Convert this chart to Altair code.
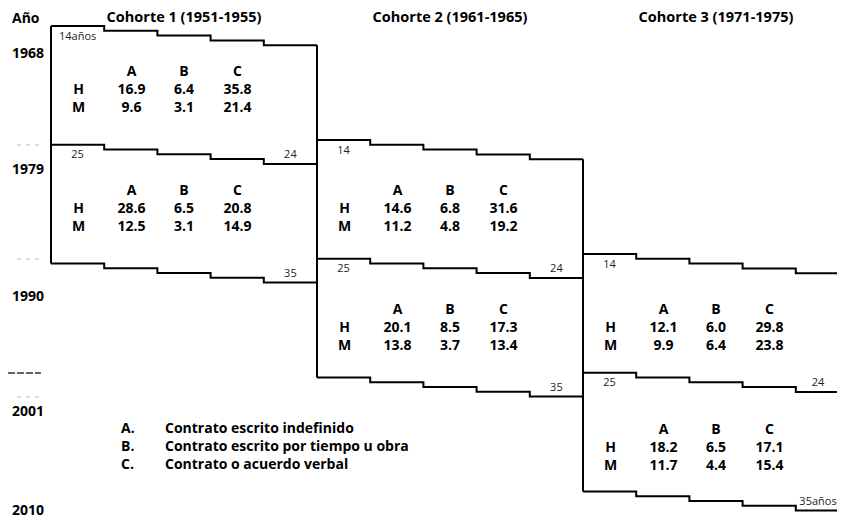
import altair as alt
import pandas as pd

# ---------------- values ----------------
cohort_titles = ["Cohorte 1 (1951-1955)", "Cohorte 2 (1961-1965)", "Cohorte 3 (1971-1975)"]
years = ["1968", "1979", "1990", "2001", "2010"]
band_cohort = [0, 0, 1, 1, 2, 2]
band_period = [0, 1, 1, 2, 2, 3]
h_a = [16.9, 28.6, 14.6, 20.1, 12.1, 18.2]
h_b = [6.4, 6.5, 6.8, 8.5, 6.0, 6.5]
h_c = [35.8, 20.8, 31.6, 17.3, 29.8, 17.1]
m_a = [9.6, 12.5, 11.2, 13.8, 9.9, 11.7]
m_b = [3.1, 3.1, 4.8, 3.7, 6.4, 4.4]
m_c = [21.4, 14.9, 19.2, 13.4, 23.8, 15.4]
start_labels = [["14años", "25"], ["14", "25"], ["14", "25"]]
end_labels = [["24", "35"], ["24", "35"], ["24", "35años"]]
legend_keys = ["A.", "B.", "C."]
legend_texts = ["Contrato escrito indefinido", "Contrato escrito por tiempo u obra", "Contrato o acuerdo verbal"]

# ---------------- layout (pixel space of the diagram) ----------------
W, H = 829, 510
X0, Y0 = 8, 8
cohort_x0 = [51, 317, 583]
cohort_y0 = [26, 140, 254]
seg_w = 53.2
n_seg = 5
band_h = 118.7
step_h = 4.8
year_y = [54, 170, 297, 412, 511]
period_h_y = [90, 209.2, 328.4, 447.6]
col_dx = [27.5, 80.5, 133, 186.5]
dash_y = [145, 259, 373, 397]
dash_dark = [False, False, True, False]
legend_y = [429, 447, 465]
FONT = "Open Sans"

xs = alt.Scale(domain=[X0, X0 + W], nice=False, zero=False)
ys = alt.Scale(domain=[Y0, Y0 + H], reverse=True, nice=False, zero=False)
X = lambda f="x": alt.X(f"{f}:Q", scale=xs, axis=None)
Y = lambda f="y": alt.Y(f"{f}:Q", scale=ys, axis=None)

# step boundary lines
line_rows = []
for c in range(3):
    for b in range(3):
        base = cohort_y0[c] + b * band_h
        for i in range(n_seg + 1):
            line_rows.append({"id": f"{c}-{b}", "x": cohort_x0[c] + i * seg_w,
                              "y": base + min(i, n_seg - 1) * step_h, "o": i})
lines = alt.Chart(pd.DataFrame(line_rows)).mark_line(
    interpolate="step-after", color="black", strokeWidth=2, clip=True
).encode(x=X(), y=Y(), detail="id:N", order="o:Q")

# vertical edges
vert_rows = []
for c in range(3):
    vert_rows.append({"x": cohort_x0[c], "y": cohort_y0[c], "y2": cohort_y0[c] + 2 * band_h})
    if c < 2:
        vert_rows.append({"x": cohort_x0[c] + n_seg * seg_w,
                          "y": cohort_y0[c] + (n_seg - 1) * step_h,
                          "y2": cohort_y0[c] + 2 * band_h + (n_seg - 1) * step_h})
verts = alt.Chart(pd.DataFrame(vert_rows)).mark_rule(color="black", strokeWidth=2).encode(
    x=X(), y=Y(), y2="y2:Q")

# age labels on boundaries
lab_rows = []
for c in range(3):
    for b in range(2):
        lab_rows.append({"x": cohort_x0[c] + seg_w / 2, "y": cohort_y0[c] + b * band_h + 10.5,
                         "t": start_labels[c][b]})
        xe = min(cohort_x0[c] + (n_seg - 0.5) * seg_w, X0 + W - 19)
        lab_rows.append({"x": xe, "y": cohort_y0[c] + (b + 1) * band_h + (n_seg - 1) * step_h - 8.5,
                         "t": end_labels[c][b]})
age_labels = alt.Chart(pd.DataFrame(lab_rows)).mark_text(
    font=FONT, fontSize=11, color="#222", baseline="middle", align="center"
).encode(x=X(), y=Y(), text="t:N")

# tables
tab_rows = []
for k in range(len(band_cohort)):
    c = band_cohort[k]
    yh = period_h_y[band_period[k]]
    x0 = cohort_x0[c]
    vals = [("H", h_a[k], h_b[k], h_c[k]), ("M", m_a[k], m_b[k], m_c[k])]
    for j, letter in enumerate(["A", "B", "C"]):
        tab_rows.append({"x": x0 + col_dx[j + 1], "y": yh - 18, "t": letter})
    for r, row in enumerate(vals):
        yy = yh + r * 18
        tab_rows.append({"x": x0 + col_dx[0], "y": yy, "t": row[0]})
        for j in range(3):
            tab_rows.append({"x": x0 + col_dx[j + 1], "y": yy, "t": f"{row[j + 1]:.1f}"})
tables = alt.Chart(pd.DataFrame(tab_rows)).mark_text(
    font=FONT, fontSize=14, fontWeight="bold", color="black", baseline="middle", align="center"
).encode(x=X(), y=Y(), text="t:N")

# cohort titles
title_df = pd.DataFrame({"x": [x + n_seg * seg_w / 2 for x in cohort_x0], "y": [18] * 3, "t": cohort_titles})
titles = alt.Chart(title_df).mark_text(
    font=FONT, fontSize=14.5, fontWeight="bold", color="black", baseline="middle", align="center"
).encode(x=X(), y=Y(), text="t:N")

# year labels
year_df = pd.DataFrame({"x": [12] * (len(years) + 1), "y": [19] + year_y, "t": ["Año"] + years})
year_txt = alt.Chart(year_df).mark_text(
    font=FONT, fontSize=14, fontWeight="bold", color="black", baseline="middle", align="left"
).encode(x=X(), y=Y(), text="t:N")

# little dashes on the left
dash_df = pd.DataFrame({"x": [8 if d else 17 for d in dash_dark], "x2": [41 if d else 40 for d in dash_dark],
                        "y": dash_y})
dashes_light = alt.Chart(dash_df[~pd.Series(dash_dark)]).mark_rule(strokeWidth=1, strokeDash=[4, 5], color="#bbb").encode(
    x=X(), x2="x2:Q", y=Y())
dashes_dark = alt.Chart(dash_df[pd.Series(dash_dark)]).mark_rule(strokeWidth=1.5, strokeDash=[7, 2], color="#333").encode(
    x=X(), x2="x2:Q", y=Y())

# legend
leg_df = pd.DataFrame({"x": [121] * 3, "x2": [165] * 3, "y": legend_y, "k": legend_keys, "t": legend_texts})
leg_keys = alt.Chart(leg_df).mark_text(
    font=FONT, fontSize=14, fontWeight="bold", color="black", baseline="middle", align="left"
).encode(x=X(), y=Y(), text="k:N")
leg_txt = alt.Chart(leg_df).mark_text(
    font=FONT, fontSize=14, fontWeight="bold", color="black", baseline="middle", align="left"
).encode(x=X("x2"), y=Y(), text="t:N")

chart = alt.layer(
    dashes_light, dashes_dark, lines, verts, age_labels, tables, titles, year_txt, leg_keys, leg_txt
).properties(
    width=W, height=H, padding=0, autosize=alt.AutoSizeParams(type="none"), background="white"
).configure_view(stroke=None)

chart.save("out.html", embed_options={"renderer": "svg", "actions": False})
